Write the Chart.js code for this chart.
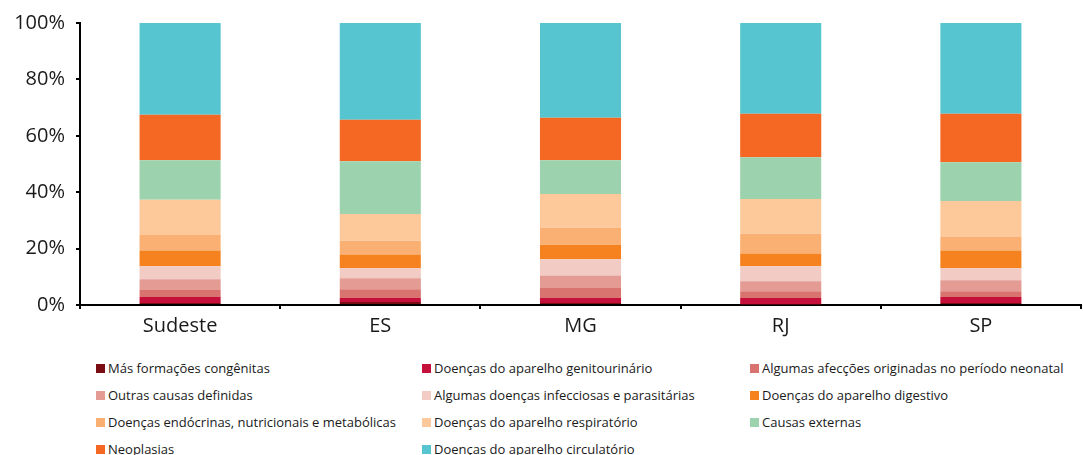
<!DOCTYPE html>
<html lang="pt">
<head>
<meta charset="utf-8">
<script src="https://cdn.jsdelivr.net/npm/chart.js@4"></script>
<style>
  html, body { margin: 0; padding: 0; background: #fff; }
  #wrap { position: relative; width: 1083px; height: 455px; overflow: hidden; }
  #chart { position: absolute; left: 0; top: 0; }
  #legend {
    position: absolute; left: 96px; top: 358px;
    display: grid; grid-template-columns: 326px 328px 330px;
    grid-auto-rows: 27px;
    font-family: "Open Sans", "Noto Sans", sans-serif; font-size: 13px; color: #1a1a1a;
  }
  .item { display: flex; align-items: center; height: 20px; white-space: nowrap; }
  .sw { width: 9px; height: 9px; margin-right: 3px; flex: none; }
</style>
</head>
<body>
<div id="wrap">
  <canvas id="chart" width="1083" height="345"></canvas>
  <div id="legend"></div>
</div>
<script>
// Regiões
const categories = ["Sudeste", "ES", "MG", "RJ", "SP"];

// Causas de óbito (de baixo para cima na pilha)
const causes = [
  "Más formações congênitas",
  "Doenças do aparelho genitourinário",
  "Algumas afecções originadas no período neonatal",
  "Outras causas definidas",
  "Algumas doenças infecciosas e parasitárias",
  "Doenças do aparelho digestivo",
  "Doenças endócrinas, nutricionais e metabólicas",
  "Doenças do aparelho respiratório",
  "Causas externas",
  "Neoplasias",
  "Doenças do aparelho circulatório"
];

const causeColors = [
  "#7a0c14", "#c4103a", "#d9736f", "#e39b94", "#f1cbc4",
  "#f5821f", "#f9b072", "#fdc99a", "#9cd3ae", "#f46823", "#56c5d0"
];

// Participação percentual por região: Sudeste, ES, MG, RJ, SP
const masFormacoes   = [0.7, 1.1, 0.7, 0.3, 0.7];
const genitourinario = [2.1, 1.4, 1.8, 2.2, 2.1];
const neonatal       = [2.5, 3.1, 3.5, 2.4, 2.1];
const outrasCausas   = [3.8, 3.9, 4.5, 3.5, 3.9];
const infecciosas    = [4.6, 3.5, 5.7, 5.3, 4.2];
const digestivo      = [5.6, 4.9, 5.2, 4.6, 6.3];
const endocrinas     = [5.7, 4.9, 6.0, 7.0, 5.0];
const respiratorio   = [12.3, 9.5, 12.0, 12.3, 12.6];
const externas       = [14.0, 18.7, 11.9, 14.8, 13.7];
const neoplasias     = [16.2, 14.7, 15.1, 15.4, 17.2];
const circulatorio   = [32.5, 34.3, 33.6, 32.2, 32.2];

const yTicks = [0, 20, 40, 60, 80, 100];

const seriesValues = [
  masFormacoes, genitourinario, neonatal, outrasCausas, infecciosas,
  digestivo, endocrinas, respiratorio, externas, neoplasias, circulatorio
];

const datasets = causes.map((name, i) => ({
  label: name,
  data: seriesValues[i],
  backgroundColor: causeColors[i],
  borderWidth: 0,
  barPercentage: 0.405,
  categoryPercentage: 1.0
}));

const chart = new Chart(document.getElementById("chart"), {
  type: "bar",
  data: { labels: categories, datasets },
  options: {
    responsive: false,
    animation: false,
    layout: { padding: { top: 19, right: 2, left: 0, bottom: 0 } },
    plugins: { legend: { display: false }, tooltip: { enabled: false } },
    scales: {
      x: {
        stacked: true,
        border: { color: "#000", width: 2 },
        grid: {
          offset: true, drawOnChartArea: false, drawTicks: true,
          tickLength: 4, color: "#000", lineWidth: 2
        },
        ticks: {
          padding: 5, color: "#1a1a1a",
          font: { family: "'Open Sans', 'Noto Sans', sans-serif", size: 20 }
        },
        afterFit: (s) => { s.height = 40; }
      },
      y: {
        stacked: true, min: 0, max: 100,
        afterBuildTicks: (s) => { s.ticks = yTicks.map(v => ({ value: v })); },
        border: { color: "#000", width: 2 },
        grid: {
          drawOnChartArea: false, drawTicks: true,
          tickLength: 4, color: "#000", lineWidth: 2
        },
        ticks: {
          padding: 11, color: "#1a1a1a",
          font: { family: "'Open Sans', 'Noto Sans', sans-serif", size: 20 },
          callback: (v) => v + "%"
        },
        afterFit: (s) => { s.width = 80; }
      }
    }
  }
});

// Legenda em três colunas, montada a partir das séries do gráfico
const legend = document.getElementById("legend");
chart.data.datasets.forEach((ds) => {
  const item = document.createElement("div");
  item.className = "item";
  const sw = document.createElement("span");
  sw.className = "sw";
  sw.style.background = ds.backgroundColor;
  const txt = document.createElement("span");
  txt.textContent = ds.label;
  item.appendChild(sw);
  item.appendChild(txt);
  legend.appendChild(item);
});
</script>
</body>
</html>
